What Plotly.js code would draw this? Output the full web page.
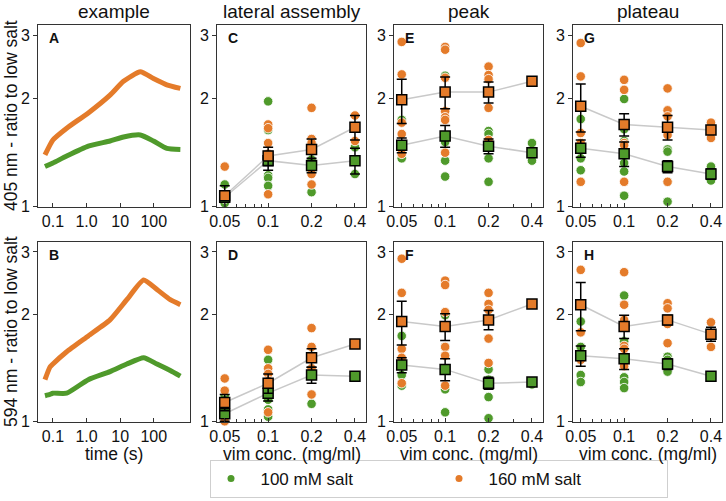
<!DOCTYPE html>
<html>
<head>
<meta charset="utf-8">
<script src="https://cdn.plot.ly/plotly-3.0.1.min.js"></script>
<style>
  body { margin: 0; background: #fff; }
  #chart { width: 726px; height: 501px; }
</style>
</head>
<body>
<div id="chart"></div>
<script>
const timeA = [0.058, 0.1, 0.257, 1.13, 5, 12.6, 40, 98, 245, 620];
const ex405_160 = [1.39, 1.53, 1.65, 1.82, 2.04, 2.23, 2.37, 2.27, 2.18, 2.13];
const ex405_100 = [1.29, 1.32, 1.38, 1.47, 1.52, 1.56, 1.58, 1.52, 1.45, 1.44];
const timeB = [0.058, 0.081, 0.1, 0.257, 1.13, 5, 15.8, 50, 125, 310, 620];
const ex594_160 = [1.31, 1.42, 1.45, 1.57, 1.74, 1.93, 2.20, 2.50, 2.35, 2.20, 2.13];
const ex594_100 = [1.18, 1.19, 1.20, 1.20, 1.31, 1.38, 1.45, 1.51, 1.45, 1.39, 1.34];

const conc = [0.05, 0.1, 0.2, 0.4];
const concLabels = ['0.05', '0.1', '0.2', '0.4'];

// lateral assembly, 405 nm (C)
const lat405Dots100 = [[1.15, 1.06, 1.04, 1.02], [1.96, 1.63, 1.36, 1.22, 1.20, 1.14], [1.50, 1.35, 1.27, 1.25, 1.095], [1.46, 1.23]];
const lat405Mean100 = [1.06, 1.34, 1.30, 1.34];
const lat405Err100 = [0.08, 0.08, 0.06, 0.11];
const lat405Dots160 = [[1.29, 1.06, 1.05], [1.69, 1.65, 1.50, 1.40, 1.08], [1.88, 1.54, 1.50, 1.23, 1.15], [1.79, 1.52]];
const lat405Mean160 = [1.07, 1.38, 1.44, 1.66];
const lat405Err160 = [0.03, 0.08, 0.10, 0.13];

// lateral assembly, 594 nm (D)
const lat594Dots100 = [[1.18, 1.05, 1.02], [1.49, 1.20, 1.15, 1.08, 1.03], [1.53, 1.35, 1.12], [1.34, 1.34]];
const lat594Mean100 = [1.05, 1.20, 1.35, 1.34];
const lat594Err100 = [0.05, 0.06, 0.07, 0.01];
const lat594Dots160 = [[1.32, 1.22, 1.13, 1.00], [1.59, 1.41, 1.36, 1.30, 1.06], [1.83, 1.62, 1.51, 1.41, 1.19], [1.65, 1.65]];
const lat594Mean160 = [1.13, 1.28, 1.51, 1.65];
const lat594Err160 = [0.06, 0.08, 0.09, 0.02];

// peak, 405 nm (E)
const peak405Dots100 = [[1.74, 1.48, 1.36], [2.31, 1.57, 1.51, 1.34, 1.21], [1.62, 1.59, 1.36, 1.17], [1.50, 1.34]];
const peak405Mean100 = [1.48, 1.57, 1.47, 1.41];
const peak405Err100 = [0.07, 0.11, 0.07, 0.03];
const peak405Dots160 = [[2.87, 2.33, 1.71, 1.59, 1.40], [2.78, 2.73, 2.28, 1.84, 1.77, 1.74, 1.41], [2.45, 2.32, 2.26, 1.88, 1.53], [2.23]];
const peak405Mean160 = [1.98, 2.08, 2.08, 2.23];
const peak405Err160 = [0.28, 0.21, 0.14, 0.0];

// peak, 594 nm (F)
const peak594Dots100 = [[1.74, 1.35, 1.26], [1.99, 1.62, 1.23, 1.06], [1.40, 1.31, 1.17, 1.02], [1.29, 1.27]];
const peak594Mean100 = [1.44, 1.40, 1.28, 1.29];
const peak594Err100 = [0.07, 0.10, 0.05, 0.01];
const peak594Dots160 = [[2.87, 2.30, 1.60, 1.51, 1.28], [2.49, 2.42, 2.03, 1.62, 1.53, 1.26], [2.30, 2.14, 2.06, 1.71, 1.46], [2.14]];
const peak594Mean160 = [1.91, 1.85, 1.93, 2.14];
const peak594Err160 = [0.27, 0.16, 0.12, 0.01];

// plateau, 405 nm (G)
const plat405Dots100 = [[1.75, 1.36, 1.26], [1.99, 1.64, 1.52, 1.32, 1.25, 1.07], [1.44, 1.42, 1.17, 1.03], [1.29, 1.18]];
const plat405Mean100 = [1.45, 1.40, 1.29, 1.23];
const plat405Err100 = [0.08, 0.11, 0.05, 0.04];
const plat405Dots160 = [[2.85, 2.30, 1.60, 1.50, 1.17], [2.25, 2.11, 1.50, 1.48, 1.17], [2.13, 1.85, 1.78, 1.58, 1.17], [1.71, 1.55]];
const plat405Mean160 = [1.90, 1.69, 1.66, 1.63];
const plat405Err160 = [0.29, 0.12, 0.13, 0.04];

// plateau, 594 nm (H)
const plat594Dots100 = [[1.91, 1.62, 1.35, 1.29], [2.26, 1.68, 1.33, 1.29, 1.24], [1.52, 1.49, 1.42, 1.38], [1.34, 1.33]];
const plat594Mean100 = [1.53, 1.50, 1.45, 1.34];
const plat594Err100 = [0.10, 0.10, 0.05, 0.02];
const plat594Dots160 = [[3.21, 2.67, 1.78, 1.49], [2.63, 2.13, 1.93, 1.63, 1.60, 1.43], [2.15, 2.08, 1.88, 1.66], [1.90, 1.62]];
const plat594Mean160 = [2.13, 1.85, 1.93, 1.76];
const plat594Err160 = [0.33, 0.14, 0.06, 0.08];

const GREEN = '#4f9a2b';
const ORANGE = '#e47b2a';
const AXIS = '#333333';
const FONT = 'Liberation Sans, Arial, sans-serif';

let traces = [];

function addCurve(x, y, color, n) {
  traces.push({
    type: 'scatter', mode: 'lines', x: x, y: y,
    xaxis: 'x' + n, yaxis: 'y' + n,
    line: { color: color, width: 5, shape: 'spline', smoothing: 0.5 },
    showlegend: false, hoverinfo: 'skip'
  });
}

function addDots(dots, color, n) {
  let xs = [], ys = [];
  dots.forEach((vals, i) => vals.forEach(v => { xs.push(conc[i]); ys.push(v); }));
  traces.push({
    type: 'scatter', mode: 'markers', x: xs, y: ys,
    xaxis: 'x' + n, yaxis: 'y' + n, cliponaxis: false,
    marker: { size: 9.5, color: color, line: { color: 'rgba(255,255,255,0.85)', width: 1 } },
    showlegend: false, hoverinfo: 'skip'
  });
}

function addMean(mean, err, color, n) {
  traces.push({
    type: 'scatter', mode: 'lines+markers', x: conc, y: mean,
    xaxis: 'x' + n, yaxis: 'y' + n, cliponaxis: false,
    line: { color: '#c9c9c9', width: 1.5 },
    marker: { symbol: 'square', size: 10, color: color, line: { color: 'black', width: 1.5 } },
    error_y: { type: 'data', array: err, visible: true, color: 'black', thickness: 1.5, width: 5 },
    showlegend: false, hoverinfo: 'skip'
  });
}

addCurve(timeA, ex405_100, GREEN, '');
addCurve(timeA, ex405_160, ORANGE, '');
addCurve(timeB, ex594_100, GREEN, 5);
addCurve(timeB, ex594_160, ORANGE, 5);

let panels = [
  [2, lat405Dots100, lat405Mean100, lat405Err100, lat405Dots160, lat405Mean160, lat405Err160],
  [3, peak405Dots100, peak405Mean100, peak405Err100, peak405Dots160, peak405Mean160, peak405Err160],
  [4, plat405Dots100, plat405Mean100, plat405Err100, plat405Dots160, plat405Mean160, plat405Err160],
  [6, lat594Dots100, lat594Mean100, lat594Err100, lat594Dots160, lat594Mean160, lat594Err160],
  [7, peak594Dots100, peak594Mean100, peak594Err100, peak594Dots160, peak594Mean160, peak594Err160],
  [8, plat594Dots100, plat594Mean100, plat594Err100, plat594Dots160, plat594Mean160, plat594Err160]
];

panels.forEach(p => {
  addDots(p[1], GREEN, p[0]);
  addDots(p[4], ORANGE, p[0]);
  addMean(p[2], p[3], GREEN, p[0]);
  addMean(p[5], p[6], ORANGE, p[0]);
});

// legend-only entries
traces.push({ type: 'scatter', mode: 'markers', x: [null], y: [null], name: '\u00a0\u00a0100 mM salt', marker: { size: 7, color: GREEN } });
traces.push({ type: 'scatter', mode: 'markers', x: [null], y: [null], name: '\u00a0\u00a0160 mM salt', marker: { size: 7, color: ORANGE } });

const W = 726, H = 501;
const colPx = [[38, 190], [217, 366], [394, 543], [573, 722]];
const rowPx = [[25, 207], [242, 422]];

let layout = {
  width: W, height: H,
  margin: { l: 0, r: 0, t: 0, b: 0 },
  paper_bgcolor: 'white', plot_bgcolor: 'white',
  font: { family: FONT, size: 15.5, color: '#111' },
  showlegend: true,
  legend: {
    orientation: 'h', x: 210 / W, xanchor: 'left', y: 3 / H, yanchor: 'bottom',
    bordercolor: '#cfcfcf', borderwidth: 1, font: { size: 17 },
    entrywidth: 183, entrywidthmode: 'pixels', itemclick: false
  },
  annotations: []
};

const letters = ['A', 'C', 'E', 'G', 'B', 'D', 'F', 'H'];

for (let r = 0; r < 2; r++) {
  for (let c = 0; c < 4; c++) {
    let n = r * 4 + c + 1;
    let key = n === 1 ? '' : n;
    let xd = [colPx[c][0] / W, colPx[c][1] / W];
    let yd = [1 - rowPx[r][1] / H, 1 - rowPx[r][0] / H];
    let xa = {
      type: 'log', domain: xd, anchor: 'y' + key,
      showline: true, mirror: true, linecolor: AXIS, linewidth: 1,
      showgrid: false, zeroline: false, ticks: 'inside', ticklen: 4, tickcolor: AXIS,
      tickfont: { size: 16 }
    };
    if (c === 0) {
      xa.range = [Math.log10(0.036), Math.log10(1200)];
      xa.tickvals = [0.1, 1, 10, 100];
      xa.ticktext = ['0.1', '1.0', '10', '100'];
    } else {
      xa.range = [Math.log10(0.0442), Math.log10(0.477)];
      xa.tickvals = conc;
      xa.ticktext = concLabels;
      xa.minor = { tickmode: 'array', tickvals: [0.06, 0.07, 0.08, 0.09, 0.3], ticks: 'inside', ticklen: 3, tickcolor: AXIS };
    }
    let ya = {
      type: 'log', domain: yd, anchor: 'x' + key, range: [-0.002, 0.505],
      showline: true, mirror: true, linecolor: AXIS, linewidth: 1,
      showgrid: false, zeroline: false, ticks: 'outside', ticklen: 4, tickcolor: AXIS,
      tickvals: [1, 2, 3], ticktext: ['1', '2', '3'], tickfont: { size: 16 }
    };
    layout['xaxis' + key] = xa;
    layout['yaxis' + key] = ya;

    layout.annotations.push({
      text: '<b>' + letters[n - 1] + '</b>', showarrow: false,
      xref: 'paper', yref: 'paper',
      x: (colPx[c][0] + 9) / W, y: 1 - (rowPx[r][0] + 3) / H,
      xanchor: 'left', yanchor: 'top', font: { size: 14, color: '#111' }
    });
  }
}

const colTitles = ['example', 'lateral assembly', 'peak', 'plateau'];
colTitles.forEach((t, c) => {
  layout.annotations.push({
    text: t, showarrow: false, xref: 'paper', yref: 'paper',
    x: (colPx[c][0] + colPx[c][1]) / 2 / W, y: 1 - 12 / H,
    xanchor: 'center', yanchor: 'middle', font: { size: 19 }
  });
  layout.annotations.push({
    text: c === 0 ? 'time (s)' : 'vim conc. (mg/ml)', showarrow: false,
    xref: 'paper', yref: 'paper',
    x: (colPx[c][0] + colPx[c][1]) / 2 / W, y: 1 - 454 / H,
    xanchor: 'center', yanchor: 'middle', font: { size: 17.5 }
  });
});

const rowTitles = ['405 nm - ratio to low salt', '594 nm - ratio to low salt'];
rowTitles.forEach((t, r) => {
  layout.annotations.push({
    text: t, showarrow: false, textangle: -90, xref: 'paper', yref: 'paper',
    x: 11 / W, y: 1 - (rowPx[r][0] + rowPx[r][1]) / 2 / H,
    xanchor: 'center', yanchor: 'middle', font: { size: 17.5 }
  });
});

Plotly.newPlot('chart', traces, layout, { staticPlot: true });
</script>
</body>
</html>
